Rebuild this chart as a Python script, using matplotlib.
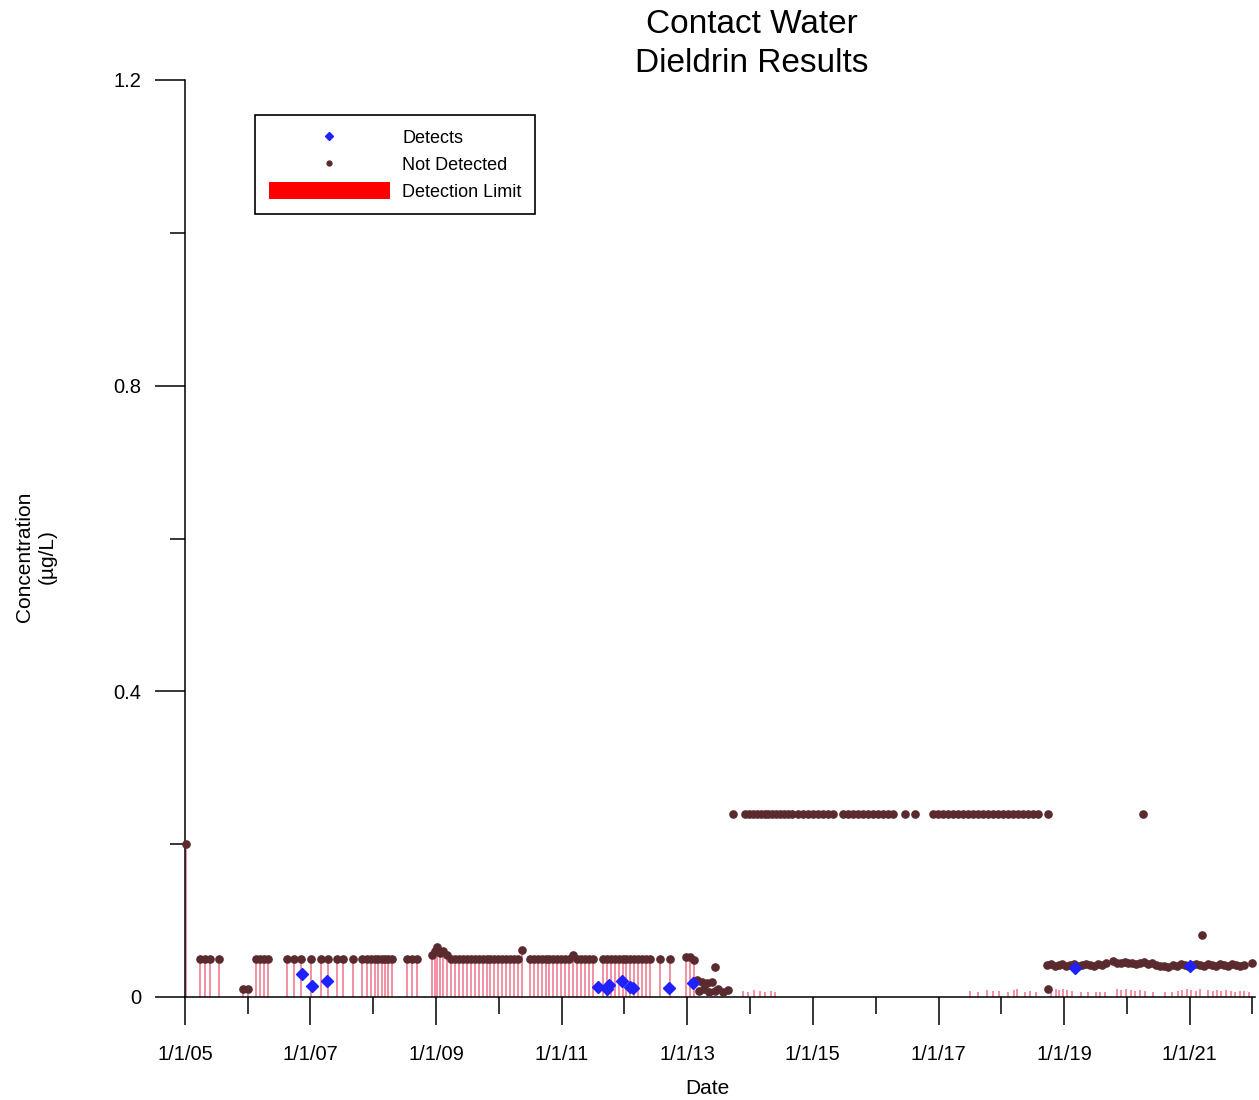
import matplotlib
matplotlib.use("Agg")
import matplotlib.pyplot as plt
import matplotlib.dates as mdates
from matplotlib.lines import Line2D
from matplotlib.patches import Patch
from matplotlib.ticker import FuncFormatter, FixedLocator
import pandas as pd

plt.rcParams['font.family'] = ['Liberation Sans', 'DejaVu Sans']

# ---------------------------------------------------------------------------
# Dieldrin sampling results, contact water (µg/L)
# ---------------------------------------------------------------------------

# Detected results
detect_dates = [
    "2006-11-13", "2007-01-09", "2007-04-06",
    "2011-07-30", "2011-09-21", "2011-10-01", "2011-12-17", "2012-02-01",
    "2012-02-18", "2012-09-15", "2013-02-02",
    "2019-03-04", "2021-01-01",
]
detect_values = [
    0.030, 0.014, 0.021,
    0.013, 0.011, 0.016, 0.021, 0.013,
    0.012, 0.012, 0.018,
    0.038, 0.041,
]

# Non-detects 2005-2013 (plotted at the reporting limit, with limit bars)
nd_early_dates = [
    "2005-01-04",
    "2005-03-28", "2005-04-26", "2005-05-26", "2005-07-16",
    "2005-12-02", "2006-01-03",
    "2006-02-17", "2006-03-11", "2006-04-04", "2006-04-28",
    "2006-08-15", "2006-09-26", "2006-11-06", "2007-01-03", "2007-03-03", "2007-04-13",
    "2007-06-05", "2007-07-09", "2007-09-05", "2007-10-27", "2007-11-25", "2007-12-18",
    "2008-01-10", "2008-01-27", "2008-02-19", "2008-03-08", "2008-03-26", "2008-04-17",
    "2008-07-14", "2008-08-12", "2008-09-10",
    "2008-12-05", "2008-12-24", "2009-01-04", "2009-01-22", "2009-02-09", "2009-03-04", "2009-03-28",
    "2009-04-20", "2009-05-13", "2009-06-05", "2009-06-28", "2009-07-21", "2009-08-13",
    "2009-09-05", "2009-09-28", "2009-10-21", "2009-11-13", "2009-12-06", "2009-12-29",
    "2010-01-21", "2010-02-13", "2010-03-08", "2010-03-31", "2010-04-23",
    "2010-05-15",
    "2010-06-29", "2010-07-22", "2010-08-14", "2010-09-06", "2010-09-29", "2010-10-22",
    "2010-11-14", "2010-12-07", "2010-12-30", "2011-01-22", "2011-02-14",
    "2011-03-07",
    "2011-03-30", "2011-04-22", "2011-05-15", "2011-06-07", "2011-07-01",
    "2011-08-28", "2011-09-20", "2011-10-13", "2011-11-05", "2011-11-28", "2011-12-21",
    "2012-01-13", "2012-02-05", "2012-02-28", "2012-03-22", "2012-04-14", "2012-05-07", "2012-05-30",
    "2012-07-24", "2012-09-21",
    "2012-12-24", "2013-01-16", "2013-02-08",
]
nd_early_values = [
    0.20,
    0.05, 0.05, 0.05, 0.05,
    0.01, 0.01,
    0.05, 0.05, 0.05, 0.05,
    0.05, 0.05, 0.05, 0.05, 0.05, 0.05,
    0.05, 0.05, 0.05, 0.05, 0.05, 0.05,
    0.05, 0.05, 0.05, 0.05, 0.05, 0.05,
    0.05, 0.05, 0.05,
    0.055, 0.060, 0.065, 0.058, 0.060, 0.055, 0.050,
    0.05, 0.05, 0.05, 0.05, 0.05, 0.05,
    0.05, 0.05, 0.05, 0.05, 0.05, 0.05,
    0.05, 0.05, 0.05, 0.05, 0.05,
    0.062,
    0.05, 0.05, 0.05, 0.05, 0.05, 0.05,
    0.05, 0.05, 0.05, 0.05, 0.05,
    0.055,
    0.05, 0.05, 0.05, 0.05, 0.05,
    0.05, 0.05, 0.05, 0.05, 0.05, 0.05,
    0.05, 0.05, 0.05, 0.05, 0.05, 0.05, 0.05,
    0.05, 0.05,
    0.052, 0.052, 0.048,
]

# Non-detects, spring/summer 2013
nd_2013_dates = [
    "2013-02-25", "2013-03-10", "2013-03-25", "2013-04-08", "2013-04-23", "2013-05-08",
    "2013-05-22", "2013-06-09", "2013-06-10", "2013-06-26", "2013-07-26", "2013-08-23",
]
nd_2013_values = [
    0.022, 0.008, 0.020, 0.010, 0.018, 0.006,
    0.020, 0.039, 0.008, 0.010, 0.007, 0.009,
]

# Non-detects at the elevated reporting limit, 2013-2020
nd_high_dates = [
    "2013-09-22",
    "2013-12-01", "2013-12-24", "2014-01-16", "2014-02-08", "2014-03-03", "2014-03-26",
    "2014-04-18", "2014-05-11", "2014-06-03", "2014-06-26", "2014-07-19", "2014-08-11", "2014-09-03",
    "2014-10-05", "2014-11-03", "2014-12-02", "2014-12-31", "2015-01-29", "2015-02-27",
    "2015-03-28", "2015-04-26",
    "2015-06-24", "2015-07-23", "2015-08-21", "2015-09-19", "2015-10-18", "2015-11-16",
    "2015-12-15", "2016-01-13", "2016-02-11", "2016-03-11", "2016-04-09",
    "2016-06-19", "2016-08-16",
    "2016-11-29", "2016-12-28", "2017-01-26", "2017-02-24", "2017-03-25", "2017-04-23",
    "2017-05-22", "2017-06-20", "2017-07-19", "2017-08-17", "2017-09-15", "2017-10-14",
    "2017-11-12", "2017-12-11", "2018-01-09", "2018-02-07", "2018-03-08", "2018-04-06",
    "2018-05-05", "2018-06-03", "2018-07-02", "2018-07-31",
    "2018-09-28",
    "2020-04-03",
]
nd_high_values = [
    0.24,
    0.24, 0.24, 0.24, 0.24, 0.24, 0.24,
    0.24, 0.24, 0.24, 0.24, 0.24, 0.24, 0.24,
    0.24, 0.24, 0.24, 0.24, 0.24, 0.24,
    0.24, 0.24,
    0.24, 0.24, 0.24, 0.24, 0.24, 0.24,
    0.24, 0.24, 0.24, 0.24, 0.24,
    0.24, 0.24,
    0.24, 0.24, 0.24, 0.24, 0.24, 0.24,
    0.24, 0.24, 0.24, 0.24, 0.24, 0.24,
    0.24, 0.24, 0.24, 0.24, 0.24, 0.24,
    0.24, 0.24, 0.24, 0.24,
    0.24,
    0.24,
]

# Non-detects 2018-2021
nd_late_dates = [
    "2018-09-29",
    "2018-09-22", "2018-10-15", "2018-11-07", "2018-11-30", "2018-12-23", "2019-01-15",
    "2019-02-07", "2019-03-02", "2019-03-25", "2019-04-17", "2019-05-10", "2019-06-02",
    "2019-06-25", "2019-07-18", "2019-08-10", "2019-09-02",
    "2019-10-11", "2019-11-03", "2019-11-26", "2019-12-19", "2020-01-11", "2020-02-03",
    "2020-02-26", "2020-03-20", "2020-04-12", "2020-05-05", "2020-05-28", "2020-06-20",
    "2020-07-13", "2020-08-05", "2020-08-28",
    "2020-09-24", "2020-10-17", "2020-11-09", "2020-12-02", "2020-12-25", "2021-01-17",
    "2021-02-09", "2021-03-04", "2021-03-27", "2021-04-19", "2021-05-12", "2021-06-04",
    "2021-06-27", "2021-07-20", "2021-08-12", "2021-09-04", "2021-09-27", "2021-10-20",
    "2021-11-12",
    "2021-12-28", "2021-03-12",
]
nd_late_values = [
    0.010,
    0.042, 0.043, 0.041, 0.042, 0.043, 0.041,
    0.042, 0.043, 0.041, 0.042, 0.043, 0.042,
    0.041, 0.043, 0.042, 0.044,
    0.047, 0.045, 0.044, 0.046, 0.044, 0.045,
    0.043, 0.044, 0.046, 0.043, 0.044, 0.042,
    0.041, 0.040, 0.039,
    0.042, 0.041, 0.043, 0.042, 0.041, 0.042,
    0.043, 0.042, 0.041, 0.043, 0.042, 0.041,
    0.043, 0.042, 0.041, 0.043, 0.042, 0.041,
    0.042,
    0.045, 0.081,
]

# Laboratory detection limits reported for the later samples
limit_dates = [
    "2013-11-20", "2013-12-18", "2014-01-22", "2014-02-25", "2014-03-28", "2014-04-30", "2014-05-28",
    "2017-07-05", "2017-08-20", "2017-10-10", "2017-11-15", "2017-12-20", "2018-02-10",
    "2018-03-15", "2018-04-05", "2018-05-20", "2018-06-20", "2018-07-25",
    "2018-10-20", "2018-11-15", "2018-12-05", "2018-12-28", "2019-01-20", "2019-02-15",
    "2019-04-10", "2019-05-20", "2019-07-05", "2019-08-01", "2019-08-28",
    "2019-11-05", "2019-12-01", "2019-12-28", "2020-01-25", "2020-02-20", "2020-03-18",
    "2020-04-15", "2020-06-01", "2020-08-10", "2020-09-20",
    "2020-10-25", "2020-11-20", "2020-12-15", "2021-01-10", "2021-02-05", "2021-03-01",
    "2021-04-20", "2021-05-15", "2021-06-10", "2021-07-05", "2021-08-01", "2021-08-28",
    "2021-09-22", "2021-10-18", "2021-11-15", "2021-12-10",
]
limit_values = [
    0.008, 0.007, 0.009, 0.008, 0.007, 0.008, 0.006,
    0.008, 0.007, 0.009, 0.008, 0.008, 0.006,
    0.009, 0.010, 0.007, 0.008, 0.006,
    0.009, 0.010, 0.009, 0.010, 0.009, 0.008,
    0.006, 0.007, 0.006, 0.007, 0.006,
    0.010, 0.009, 0.010, 0.009, 0.008, 0.009,
    0.008, 0.006, 0.007, 0.006,
    0.008, 0.009, 0.010, 0.009, 0.008, 0.010,
    0.009, 0.008, 0.009, 0.008, 0.009, 0.008,
    0.007, 0.008, 0.008, 0.006,
]

y_ticks = [0.0, 0.4, 0.8, 1.2]
y_minor = [0.2, 0.6, 1.0]

ND_COLOR = "#5a2a2e"
DET_COLOR = "#1f22ff"
DL_COLOR = "#e8385a"

to_dt = pd.to_datetime

fig = plt.figure(figsize=(12.59, 11.0), dpi=100)
ax = fig.add_axes([185 / 1259, 1 - 997 / 1100, 1070 / 1259, 917 / 1100])

# detection limit bars
ax.vlines(to_dt(nd_early_dates), 0, nd_early_values, color=DL_COLOR, lw=1.1,
          alpha=0.7, zorder=2)
ax.vlines(to_dt(limit_dates), 0, limit_values, color=DL_COLOR, lw=1.1,
          alpha=0.7, zorder=2)

# non-detects
for d, v in [(nd_early_dates, nd_early_values), (nd_2013_dates, nd_2013_values),
             (nd_high_dates, nd_high_values), (nd_late_dates, nd_late_values)]:
    ax.plot(to_dt(d), v, ls="none", marker="o", ms=5.2, color=ND_COLOR,
            mec=ND_COLOR, zorder=3, clip_on=False)

# detects
ax.plot(to_dt(detect_dates), detect_values, ls="none", marker="D", ms=6,
        color=DET_COLOR, mec=DET_COLOR, zorder=4, clip_on=False)

# axes styling
ax.set_xlim(to_dt("2005-01-01"), to_dt("2022-01-16"))
ax.set_ylim(0, 1.2)
for s in ("top", "right"):
    ax.spines[s].set_visible(False)
for s in ("left", "bottom"):
    ax.spines[s].set_linewidth(1.1)

ax.xaxis.set_major_locator(FixedLocator(mdates.date2num(
    [to_dt(f"{y}-01-01") for y in range(2005, 2022, 2)])))
ax.xaxis.set_minor_locator(FixedLocator(mdates.date2num(
    [to_dt(f"{y}-01-01") for y in range(2006, 2023, 2)])))


def fmt_date(x, pos):
    d = mdates.num2date(x)
    return f"{d.month}/{d.day}/{d.year % 100:02d}"


ax.xaxis.set_major_formatter(FuncFormatter(fmt_date))
ax.yaxis.set_major_locator(FixedLocator(y_ticks))
ax.yaxis.set_minor_locator(FixedLocator(y_minor))
ax.yaxis.set_major_formatter(FuncFormatter(lambda v, p: "0" if v == 0 else f"{v:.1f}"))

ax.tick_params(axis="x", which="major", direction="out", length=20.5, width=1.1,
               pad=14, labelsize=14.5, colors="black")
ax.tick_params(axis="x", which="minor", direction="out", length=12, width=1.1)
ax.tick_params(axis="y", which="major", direction="out", length=21.5, width=1.1,
               pad=10, labelsize=14.5)
ax.tick_params(axis="y", which="minor", direction="out", length=11, width=1.1)

fig.text(707 / 1259, 1 - 1088 / 1100, "Date", ha="center", va="center", fontsize=15)
fig.text(36 / 1259, 1 - 557 / 1100, "Concentration\n(µg/L)", ha="center", va="center",
         rotation=90, fontsize=15, multialignment="center", linespacing=1.25)
fig.text(752 / 1259, 1 - 44 / 1100, "Contact Water\nDieldrin Results", ha="center",
         va="center", fontsize=24, multialignment="center", linespacing=1.3)

handles = [
    Line2D([], [], ls="none", marker="D", ms=4, color=DET_COLOR),
    Line2D([], [], ls="none", marker="o", ms=3.5, color=ND_COLOR),
    Patch(facecolor="#ff0000", edgecolor="none"),
]
leg = fig.legend(handles, ["Detects", "Not Detected", "Detection Limit"],
                 loc="upper left", bbox_to_anchor=(255 / 1259, 1 - 115 / 1100),
                 bbox_transform=fig.transFigure, frameon=True, fancybox=False,
                 edgecolor="black", fontsize=13, handlelength=6.7, handleheight=1.0,
                 labelspacing=0.48, borderpad=0.75, handletextpad=0.7,
                 framealpha=1, borderaxespad=0)
leg.get_frame().set_linewidth(1.2)

fig.savefig("out.png", dpi=100)
